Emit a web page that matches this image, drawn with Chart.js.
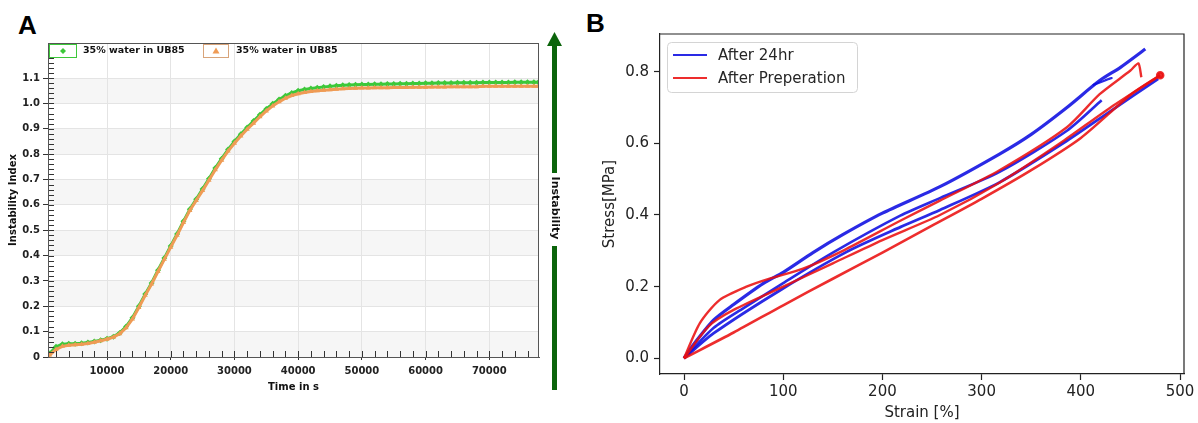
<!DOCTYPE html>
<html>
<head>
<meta charset="utf-8">
<script src="https://cdn.jsdelivr.net/npm/chart.js@4.4.1/dist/chart.umd.min.js"></script>
<style>
body { margin: 0; background: #fff; width: 1198px; height: 423px; overflow: hidden; position: relative; }
.panel-label { position: absolute; font-family: "Liberation Sans", Arial, sans-serif; font-weight: bold; font-size: 26px; line-height: 1; color: #000; }
#boxA { position: absolute; left: 0; top: 0; width: 580px; height: 423px; }
#boxB { position: absolute; left: 580px; top: 0; width: 618px; height: 423px; }
</style>
</head>
<body>
<div class="panel-label" style="left:18px;top:12px">A</div>
<div class="panel-label" style="left:586px;top:10px">B</div>
<div id="boxA"><canvas id="chartA"></canvas></div>
<div id="boxB"><canvas id="chartB"></canvas></div>
<script>
// ---- panel A: instability index vs time ----
const timeS = [740, 1000, 2000, 3000, 4000, 5000, 6000, 7000, 8000, 9000,
  10000, 11000, 12000, 13000, 14000, 15000, 16000, 17000, 18000, 19000,
  20000, 21000, 22000, 23000, 24000, 25000, 26000, 27000, 28000, 29000,
  30000, 31000, 32000, 33000, 34000, 35000, 36000, 37000, 38000, 39000,
  40000, 41000, 42000, 43000, 44000, 45000, 46000, 47000, 48000, 49000,
  50000, 51000, 52000, 53000, 54000, 55000, 56000, 57000, 58000, 59000,
  60000, 61000, 62000, 63000, 64000, 65000, 66000, 67000, 68000, 69000,
  70000, 71000, 72000, 73000, 74000, 75000, 76000, 77000, 77700];
const greenIndex = [0.006, 0.014, 0.040, 0.050, 0.052, 0.052, 0.054, 0.057, 0.061, 0.066,
  0.072, 0.080, 0.095, 0.120, 0.155, 0.200, 0.248, 0.292, 0.342, 0.390,
  0.438, 0.485, 0.535, 0.583, 0.622, 0.662, 0.703, 0.745, 0.782, 0.818,
  0.850, 0.878, 0.905, 0.930, 0.955, 0.978, 0.998, 1.015, 1.030, 1.041,
  1.050, 1.055, 1.059, 1.062, 1.065, 1.067, 1.069, 1.071, 1.072, 1.073,
  1.074, 1.074, 1.075, 1.075, 1.076, 1.076, 1.077, 1.077, 1.078, 1.078,
  1.079, 1.079, 1.080, 1.080, 1.080, 1.081, 1.081, 1.081, 1.081, 1.082,
  1.082, 1.082, 1.082, 1.082, 1.083, 1.083, 1.083, 1.083, 1.083];
const orangeIndex = [0.003, 0.008, 0.030, 0.042, 0.046, 0.048, 0.050, 0.053, 0.058, 0.064,
  0.070, 0.078, 0.092, 0.115, 0.150, 0.195, 0.243, 0.288, 0.337, 0.385,
  0.433, 0.480, 0.530, 0.578, 0.617, 0.656, 0.697, 0.738, 0.776, 0.812,
  0.843, 0.871, 0.898, 0.922, 0.947, 0.970, 0.990, 1.006, 1.020, 1.031,
  1.038, 1.043, 1.047, 1.050, 1.052, 1.054, 1.056, 1.058, 1.059, 1.060,
  1.061, 1.061, 1.062, 1.062, 1.062, 1.063, 1.063, 1.063, 1.064, 1.064,
  1.064, 1.065, 1.065, 1.065, 1.066, 1.066, 1.066, 1.066, 1.066, 1.067,
  1.067, 1.067, 1.067, 1.067, 1.067, 1.067, 1.067, 1.067, 1.067];
const seriesA = ['35% water in UB85', '35% water in UB85'];
const xTicksA = [10000, 20000, 30000, 40000, 50000, 60000, 70000];
const yTicksA = [0, 0.1, 0.2, 0.3, 0.4, 0.5, 0.6, 0.7, 0.8, 0.9, 1.0, 1.1];

// ---- panel B: stress vs strain cycles ----
// After 24hr
const b1Strain = [0, 10, 30, 50, 80, 100, 130, 160, 200, 258, 318, 350, 386, 419, 440, 465];
const b1Stress = [0, 0.04, 0.107, 0.15, 0.209, 0.24, 0.295, 0.345, 0.405, 0.479, 0.57, 0.625, 0.70, 0.775, 0.812, 0.863];
const b2Strain = [0, 30, 97, 164, 218, 258, 318, 386, 430, 478];
const b2Stress = [0, 0.07, 0.19, 0.297, 0.366, 0.414, 0.491, 0.607, 0.69, 0.78];
const b3Strain = [0, 30, 60, 100, 150, 218, 258, 318, 386, 421];
const b3Stress = [0, 0.085, 0.14, 0.21, 0.295, 0.398, 0.447, 0.52, 0.635, 0.72];
const b4Strain = [412, 431, 424];
const b4Stress = [0.762, 0.782, 0.776];
// After Preperation
const r1Strain = [0, 16, 36, 63, 87, 120, 160, 218, 258, 318, 386, 419, 450, 458, 461];
const r1Stress = [0, 0.098, 0.163, 0.2, 0.223, 0.25, 0.30, 0.384, 0.44, 0.525, 0.645, 0.737, 0.803, 0.823, 0.784];
const r2Strain = [0, 50, 100, 150, 200, 250, 300, 350, 400, 450, 480];
const r2Stress = [0, 0.072, 0.148, 0.222, 0.295, 0.37, 0.445, 0.525, 0.615, 0.735, 0.79];
const r3Strain = [0, 25, 50, 100, 150, 200, 258, 318, 379, 430, 480];
const r3Stress = [0, 0.09, 0.135, 0.2, 0.265, 0.33, 0.40, 0.49, 0.60, 0.70, 0.79];
const seriesB = ['After 24hr', 'After Preperation'];
const xTicksB = [0, 100, 200, 300, 400, 500];
const yTicksB = [0, 0.2, 0.4, 0.6, 0.8];

const green = '#3cc83a';
const orange = '#ef9b55';
const blue = 'rgba(12, 12, 225, 0.88)';
const red = 'rgba(235, 16, 16, 0.88)';
const fontA = { family: 'DejaVu Sans', weight: 'bold', size: 10 };
const fontB = { family: 'DejaVu Sans', size: 15 };

function pairs(xs, ys) {
    return xs.map((x, i) => ({ x: x, y: ys[i] }));
}

const panelADecor = {
    id: 'panelADecor',
    beforeDraw(chart) {
        const { ctx, chartArea: a, scales: { y } } = chart;
        ctx.save();
        ctx.fillStyle = '#f6f6f6';
        // alternate shaded bands between major y ticks
        for (let i = 0; i + 1 < yTicksA.length; i += 2) {
            const top = y.getPixelForValue(yTicksA[i + 1]);
            const bot = y.getPixelForValue(yTicksA[i]);
            ctx.fillRect(a.left, top, a.right - a.left, bot - top);
        }
        ctx.restore();
    },
    afterDraw(chart) {
        const { ctx, chartArea: a, scales: { x, y } } = chart;
        ctx.save();
        // inner minor ticks
        ctx.strokeStyle = '#333';
        ctx.lineWidth = 1;
        ctx.beginPath();
        for (let v = 2000; v < x.max; v += 2000) {
            const px = Math.round(x.getPixelForValue(v)) + 0.5;
            ctx.moveTo(px, a.bottom);
            ctx.lineTo(px, a.bottom - 6);
        }
        for (let v = 0.02; v < y.max; v += 0.02) {
            const py = Math.round(y.getPixelForValue(v)) + 0.5;
            ctx.moveTo(a.left, py);
            ctx.lineTo(a.left + 6, py);
        }
        ctx.stroke();
        // frame
        ctx.strokeStyle = '#555';
        ctx.strokeRect(a.left + 0.5, a.top + 0.5, a.right - a.left - 1, a.bottom - a.top);

        // legend
        ctx.font = 'bold 9.5px "DejaVu Sans"';
        ctx.textBaseline = 'middle';
        ctx.fillStyle = '#fff';
        ctx.lineWidth = 1;
        ctx.strokeStyle = green;
        ctx.fillRect(a.left + 1, a.top + 1, 27, 13);
        ctx.strokeRect(a.left + 1.5, a.top + 1.5, 27, 13);
        ctx.strokeStyle = '#d8a47a';
        ctx.fillRect(a.left + 155, a.top + 1, 25, 13);
        ctx.strokeRect(a.left + 155.5, a.top + 1.5, 25, 13);
        ctx.fillStyle = green;
        ctx.beginPath();
        const gx = a.left + 15, gy = a.top + 8;
        ctx.moveTo(gx, gy - 3); ctx.lineTo(gx + 3, gy); ctx.lineTo(gx, gy + 3); ctx.lineTo(gx - 3, gy);
        ctx.fill();
        ctx.fillStyle = orange;
        ctx.beginPath();
        const ox = a.left + 168, oy = a.top + 8;
        ctx.moveTo(ox, oy - 3.5); ctx.lineTo(ox + 3.5, oy + 2.5); ctx.lineTo(ox - 3.5, oy + 2.5);
        ctx.fill();
        ctx.fillStyle = '#111';
        ctx.fillText(seriesA[0], a.left + 35, a.top + 8);
        ctx.fillText(seriesA[1], a.left + 188, a.top + 8);

        // instability arrow on the right
        const ax = a.right + 15.5;
        ctx.fillStyle = '#0b640b';
        ctx.fillRect(ax - 2.5, 45, 5, 128);
        ctx.fillRect(ax - 2.5, 246, 5, 144);
        ctx.beginPath();
        ctx.moveTo(ax - 7.5, 46); ctx.lineTo(ax + 7.5, 46); ctx.lineTo(ax, 32);
        ctx.fill();
        ctx.translate(ax, 208);
        ctx.rotate(Math.PI / 2);
        ctx.font = 'bold 11px "DejaVu Sans"';
        ctx.textAlign = 'center';
        ctx.fillStyle = '#111';
        ctx.fillText('Instability', 0, 0);
        ctx.restore();
    }
};

const chartA = new Chart(document.getElementById('chartA'), {
    type: 'scatter',
    data: {
        datasets: [
            {
                label: seriesA[1],
                data: pairs(timeS, orangeIndex),
                showLine: true,
                borderColor: orange,
                backgroundColor: orange,
                borderWidth: 3,
                pointStyle: 'triangle',
                pointRadius: 3,
                pointBorderWidth: 0,
                order: 0
            },
            {
                label: seriesA[0],
                data: pairs(timeS, greenIndex),
                showLine: true,
                borderColor: green,
                backgroundColor: green,
                borderWidth: 3,
                pointStyle: 'rectRot',
                pointRadius: 3,
                pointBorderWidth: 0,
                order: 1
            }
        ]
    },
    options: {
        responsive: true,
        maintainAspectRatio: false,
        animation: false,
        layout: { padding: { top: 43, right: 41, left: 0, bottom: 0 } },
        plugins: { legend: { display: false }, tooltip: { enabled: false } },
        scales: {
            x: {
                type: 'linear',
                min: 740,
                max: 77800,
                afterBuildTicks: s => { s.ticks = xTicksA.map(v => ({ value: v })); },
                afterFit: s => { s.height = 66; },
                grid: { color: '#e4e4e4', tickColor: '#333', tickLength: 3 },
                border: { color: '#555' },
                ticks: { font: fontA, color: '#222', padding: 5, maxRotation: 0, callback: v => String(v) },
                title: { display: true, text: 'Time in s', font: { family: 'DejaVu Sans', weight: 'bold', size: 10 }, color: '#111', padding: { bottom: 30 } }
            },
            y: {
                min: 0,
                max: 1.238,
                afterBuildTicks: s => { s.ticks = yTicksA.map(v => ({ value: v })); },
                afterFit: s => { s.width = 48; },
                grid: { color: '#e4e4e4', tickColor: '#333', tickLength: 5 },
                border: { color: '#555' },
                ticks: { font: fontA, color: '#222', padding: 3, callback: v => v === 0 ? '0' : v.toFixed(1) },
                title: { display: true, text: 'Instability Index', font: { family: 'DejaVu Sans', weight: 'bold', size: 10 }, color: '#111', padding: { top: 7 } }
            }
        }
    },
    plugins: [panelADecor]
});

const panelBDecor = {
    id: 'panelBDecor',
    afterDraw(chart) {
        const { ctx, chartArea: a } = chart;
        ctx.save();
        // remaining spines
        ctx.strokeStyle = '#222';
        ctx.lineWidth = 1.2;
        ctx.beginPath();
        ctx.moveTo(a.left, a.top);
        ctx.lineTo(a.right, a.top);
        ctx.lineTo(a.right, a.bottom);
        ctx.stroke();
        // legend
        const lx = a.left + 7, ly = a.top + 8;
        ctx.fillStyle = 'rgba(255,255,255,0.85)';
        ctx.strokeStyle = '#d4d4d4';
        ctx.lineWidth = 1;
        ctx.beginPath();
        ctx.roundRect(lx + 0.5, ly + 0.5, 190, 50, 4);
        ctx.fill();
        ctx.stroke();
        const colors = [blue, red];
        ctx.font = '15px "DejaVu Sans"';
        ctx.textBaseline = 'middle';
        seriesB.forEach((name, i) => {
            const yy = ly + 13 + i * 23;
            ctx.strokeStyle = colors[i];
            ctx.lineWidth = 2;
            ctx.beginPath();
            ctx.moveTo(lx + 6, yy);
            ctx.lineTo(lx + 40, yy);
            ctx.stroke();
            ctx.fillStyle = '#262626';
            ctx.fillText(name, lx + 51, yy + 1);
        });
        ctx.restore();
    }
};

function curve(xs, ys, color, width, order) {
    return {
        data: pairs(xs, ys),
        showLine: true,
        borderColor: color,
        backgroundColor: color,
        borderWidth: width,
        pointRadius: 0,
        tension: 0.25,
        order: order
    };
}

const r2Set = curve(r2Strain, r2Stress, red, 2.6, 0);
r2Set.pointRadius = ctx => ctx.dataIndex === r2Strain.length - 1 ? 3 : 0;

const chartB = new Chart(document.getElementById('chartB'), {
    type: 'scatter',
    data: {
        datasets: [
            curve(b1Strain, b1Stress, blue, 3.2, 1),
            curve(b2Strain, b2Stress, blue, 2.8, 1),
            curve(b3Strain, b3Stress, blue, 2.6, 1),
            curve(b4Strain, b4Stress, blue, 2.2, 1),
            curve(r1Strain, r1Stress, red, 2.4, 0),
            r2Set,
            curve(r3Strain, r3Stress, red, 2.4, 0)
        ]
    },
    options: {
        responsive: true,
        maintainAspectRatio: false,
        animation: false,
        layout: { padding: { top: 34, right: 14, left: 0, bottom: 0 } },
        plugins: { legend: { display: false }, tooltip: { enabled: false } },
        scales: {
            x: {
                type: 'linear',
                min: -24.2,
                max: 504,
                afterBuildTicks: s => { s.ticks = xTicksB.map(v => ({ value: v })); },
                afterFit: s => { s.height = 49; },
                grid: { display: true, drawOnChartArea: false, tickColor: '#222', tickLength: 6, tickWidth: 1.2 },
                border: { color: '#222', width: 1.2 },
                ticks: { font: fontB, color: '#222', padding: 3, maxRotation: 0 },
                title: { display: true, text: 'Strain [%]', font: fontB, color: '#222', padding: { bottom: 1 } }
            },
            y: {
                min: -0.0438,
                max: 0.905,
                afterBuildTicks: s => { s.ticks = yTicksB.map(v => ({ value: v })); },
                afterFit: s => { s.width = 80; },
                grid: { display: true, drawOnChartArea: false, tickColor: '#222', tickLength: 6, tickWidth: 1.2 },
                border: { color: '#222', width: 1.2 },
                ticks: { font: fontB, color: '#222', padding: 5, callback: v => v.toFixed(1) },
                title: { display: true, text: 'Stress[MPa]', font: fontB, color: '#222', padding: { top: 21 } }
            }
        }
    },
    plugins: [panelBDecor]
});
</script>
</body>
</html>
